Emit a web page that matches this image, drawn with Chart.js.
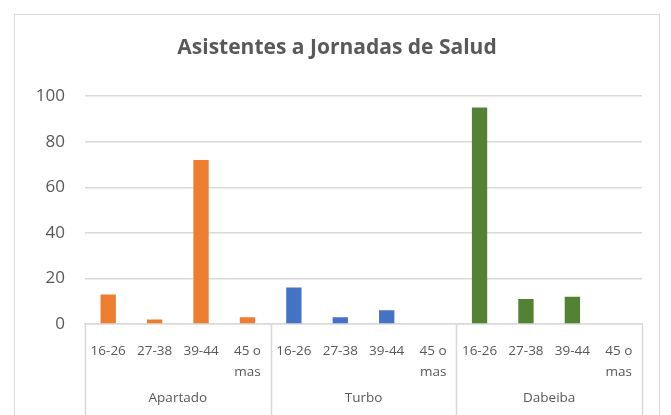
<!DOCTYPE html>
<html>
<head>
<meta charset="utf-8">
<script src="https://cdn.jsdelivr.net/npm/chart.js@4/dist/chart.umd.min.js"></script>
<style>
  html, body { margin: 0; padding: 0; background: #fff; width: 671px; height: 415px; overflow: hidden; }
  #box { position: absolute; left: 14px; top: 14px; width: 644px; height: 420px; border: 1px solid #d9d9d9; }
  #chart { position: absolute; left: 0; top: 0; }
</style>
</head>
<body>
<div id="box"><canvas id="chart" width="644" height="400"></canvas></div>
<script>
var ageGroups = ['16-26', '27-38', '39-44', ['45 o', 'mas']];
var towns = ['Apartado', 'Turbo', 'Dabeiba'];
var apartado = [13, 2, 72, 3];
var turbo = [16, 3, 6, 0];
var dabeiba = [95, 11, 12, 0];
var yTicks = [0, 20, 40, 60, 80, 100];

var colors = ['#ED7D31', '#4472C4', '#548235'];
var gray = '#d9d9d9';
var textColor = '#595959';
var font = "'Open Sans', sans-serif";

// one label per bar, town by town
var labels = [];
towns.forEach(function () { ageGroups.forEach(function (a) { labels.push(a); }); });

// each town gets its own dataset, null outside its block
function spread(values, t) {
  var out = [];
  towns.forEach(function (_, i) {
    values.forEach(function (v) { out.push(i === t ? v : null); });
  });
  return out;
}
var series = [apartado, turbo, dabeiba];
var datasets = series.map(function (vals, i) {
  return {
    label: towns[i],
    data: spread(vals, i),
    backgroundColor: colors[i],
    xAxisID: 'x',
    barPercentage: 0.33,
    categoryPercentage: 1,
    skipNull: true
  };
});

// vertical separators between town blocks, below the axis line
var separators = {
  id: 'separators',
  afterDraw: function (chart) {
    var x = chart.scales.x;
    var step = x.width / labels.length;
    var c = chart.ctx;
    c.save();
    c.strokeStyle = gray;
    c.lineWidth = 1.5;
    for (var i = 0; i <= towns.length; i++) {
      var px = Math.round(x.left + i * ageGroups.length * step) + 0.5;
      c.beginPath();
      c.moveTo(px, x.top);
      c.lineTo(px, chart.height);
      c.stroke();
    }
    c.restore();
  }
};

new Chart(document.getElementById('chart').getContext('2d'), {
  type: 'bar',
  data: { labels: labels, datasets: datasets },
  plugins: [separators],
  options: {
    responsive: false,
    animation: false,
    layout: { padding: { top: 20, left: 17, right: 17, bottom: 0 } },
    plugins: {
      legend: { display: false },
      tooltip: { enabled: false },
      title: {
        display: true,
        text: 'Asistentes a Jornadas de Salud',
        color: textColor,
        font: { family: font, size: 21, weight: 'bold' },
        padding: { top: 0, bottom: 36 }
      }
    },
    scales: {
      y: {
        min: 0,
        max: 100,
        afterBuildTicks: function (s) { s.ticks = yTicks.map(function (v) { return { value: v }; }); },
        afterFit: function (s) { s.width = 53; },
        border: { display: false },
        grid: { color: gray, lineWidth: 1.5, drawTicks: false },
        ticks: { color: textColor, padding: 20, font: { family: font, size: 17 } }
      },
      x: {
        weight: 0,
        afterFit: function (s) { s.height = 60; },
        border: { display: true, color: gray, width: 1.5 },
        grid: { display: false, drawTicks: false },
        ticks: {
          autoSkip: false, maxRotation: 0, color: textColor, padding: 16,
          font: { family: font, size: 13.5, lineHeight: 1.6 }
        }
      },
      group: {
        type: 'category',
        labels: towns,
        position: 'bottom',
        offset: true,
        weight: 1,
        afterFit: function (s) { s.height = 31; },
        border: { display: false },
        grid: { display: false, drawTicks: false },
        ticks: { color: textColor, padding: 6, font: { family: font, size: 13.5 } }
      }
    }
  }
});
</script>
</body>
</html>
